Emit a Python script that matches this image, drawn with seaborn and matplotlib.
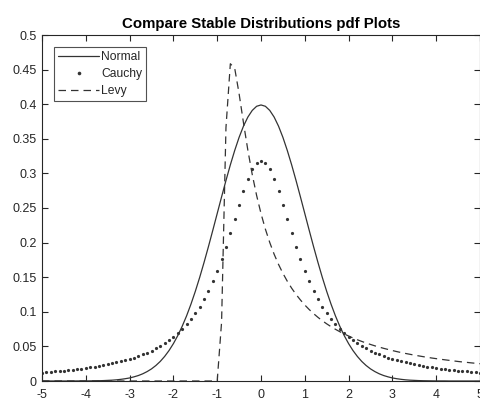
import numpy as np
import pandas as pd
import matplotlib
matplotlib.use("Agg")
import matplotlib.pyplot as plt
import seaborn as sns

x_values = np.linspace(-5, 5, 101)

normal_pdf = [
    0.0000, 0.0000, 0.0000, 0.0000, 0.0000, 0.0000, 0.0000, 0.0000,
    0.0001, 0.0001, 0.0001, 0.0002, 0.0003, 0.0004, 0.0006, 0.0009, 0.0012, 0.0017,
    0.0024, 0.0033, 0.0044, 0.0060, 0.0079, 0.0104, 0.0136, 0.0175, 0.0224, 0.0283,
    0.0355, 0.0440, 0.0540, 0.0656, 0.0790, 0.0940, 0.1109, 0.1295, 0.1497, 0.1714,
    0.1942, 0.2179, 0.2420, 0.2661, 0.2897, 0.3123, 0.3332, 0.3521, 0.3683, 0.3814,
    0.3910, 0.3970,
    0.3989,
    0.3970, 0.3910, 0.3814, 0.3683, 0.3521, 0.3332, 0.3123, 0.2897, 0.2661, 0.2420,
    0.2179, 0.1942, 0.1714, 0.1497, 0.1295, 0.1109, 0.0940, 0.0790, 0.0656, 0.0540,
    0.0440, 0.0355, 0.0283, 0.0224, 0.0175, 0.0136, 0.0104, 0.0079, 0.0060, 0.0044,
    0.0033, 0.0024, 0.0017, 0.0012, 0.0009, 0.0006, 0.0004, 0.0003, 0.0002, 0.0001,
    0.0001, 0.0001, 0.0000, 0.0000, 0.0000, 0.0000, 0.0000, 0.0000, 0.0000, 0.0000,
]

cauchy_pdf = [
    0.0122, 0.0127, 0.0132, 0.0138, 0.0144, 0.0150, 0.0156, 0.0163, 0.0171, 0.0179,
    0.0187, 0.0196, 0.0206, 0.0217, 0.0228, 0.0240, 0.0253, 0.0268, 0.0283, 0.0300,
    0.0318, 0.0338, 0.0360, 0.0384, 0.0410, 0.0439, 0.0471, 0.0506, 0.0545, 0.0588,
    0.0637, 0.0691, 0.0751, 0.0818, 0.0894, 0.0979, 0.1075, 0.1183, 0.1305, 0.1440,
    0.1592, 0.1759, 0.1941, 0.2136, 0.2340, 0.2546, 0.2744, 0.2920, 0.3061, 0.3152,
    0.3183,
    0.3152, 0.3061, 0.2920, 0.2744, 0.2546, 0.2340, 0.2136, 0.1941, 0.1759, 0.1592,
    0.1440, 0.1305, 0.1183, 0.1075, 0.0979, 0.0894, 0.0818, 0.0751, 0.0691, 0.0637,
    0.0588, 0.0545, 0.0506, 0.0471, 0.0439, 0.0410, 0.0384, 0.0360, 0.0338, 0.0318,
    0.0300, 0.0283, 0.0268, 0.0253, 0.0240, 0.0228, 0.0217, 0.0206, 0.0196, 0.0187,
    0.0179, 0.0171, 0.0163, 0.0156, 0.0150, 0.0144, 0.0138, 0.0132, 0.0127, 0.0122,
]

levy_pdf = [
    0.0, 0.0, 0.0, 0.0, 0.0, 0.0, 0.0, 0.0, 0.0, 0.0,
    0.0, 0.0, 0.0, 0.0, 0.0, 0.0, 0.0, 0.0, 0.0, 0.0,
    0.0, 0.0, 0.0, 0.0, 0.0, 0.0, 0.0, 0.0, 0.0, 0.0,
    0.0, 0.0, 0.0, 0.0, 0.0, 0.0, 0.0, 0.0, 0.0, 0.0,
    0.0,
    0.0850, 0.3661, 0.4585, 0.4518, 0.4151, 0.3731, 0.3335, 0.2984, 0.2681, 0.2420,
    0.2195, 0.2001, 0.1832, 0.1685, 0.1556, 0.1442, 0.1341, 0.1251, 0.1171, 0.1098,
    0.1033, 0.0974, 0.0920, 0.0871, 0.0826, 0.0785, 0.0747, 0.0712, 0.0680, 0.0650,
    0.0622, 0.0596, 0.0572, 0.0549, 0.0528, 0.0508, 0.0490, 0.0472, 0.0456, 0.0440,
    0.0425, 0.0411, 0.0398, 0.0386, 0.0374, 0.0363, 0.0352, 0.0342, 0.0332, 0.0323,
    0.0314, 0.0306, 0.0298, 0.0290, 0.0282, 0.0275, 0.0269, 0.0262, 0.0256, 0.0250,
]

series_labels = ["Normal", "Cauchy", "Levy"]
title_text = "Compare Stable Distributions pdf Plots"
x_ticks = [-5, -4, -3, -2, -1, 0, 1, 2, 3, 4, 5]
y_ticks = [0, 0.05, 0.1, 0.15, 0.2, 0.25, 0.3, 0.35, 0.4, 0.45, 0.5]
y_tick_labels = ["0", "0.05", "0.1", "0.15", "0.2", "0.25", "0.3", "0.35", "0.4", "0.45", "0.5"]

sns.set_style("white")
plt.rcParams["font.family"] = ["Liberation Sans", "DejaVu Sans"]

fig = plt.figure(figsize=(4.81, 4.0), dpi=100)
ax = fig.add_axes([42 / 481, 19 / 400, 438 / 481, 346 / 400])

line_color = "#333333"
sns.lineplot(x=x_values, y=normal_pdf, ax=ax, color=line_color, linewidth=0.9,
             label=series_labels[0], estimator=None, sort=False)
sns.lineplot(x=x_values, y=cauchy_pdf, ax=ax, color=line_color, linestyle="",
             marker="o", markersize=2.3, markeredgewidth=0, label=series_labels[1],
             estimator=None, sort=False)
sns.lineplot(x=x_values, y=levy_pdf, ax=ax, color=line_color, linewidth=0.9,
             dashes=False, label=series_labels[2], estimator=None, sort=False)
ax.lines[-1].set_linestyle((0, (6, 4)))

ax.set_xlim(-5, 5)
ax.set_ylim(0, 0.5)
ax.set_xticks(x_ticks)
ax.set_yticks(y_ticks)
ax.set_xticklabels([str(t) for t in x_ticks])
ax.set_yticklabels(y_tick_labels)
ax.tick_params(direction="in", length=4, width=0.8, colors="#262626", labelsize=9,
               top=True, right=True, bottom=True, left=True, pad=4)
ax.tick_params(axis="x", pad=6)
for sp in ax.spines.values():
    sp.set_visible(True)
    sp.set_color("#262626")
    sp.set_linewidth(0.8)
ax.set_title(title_text, fontsize=10.8, fontweight="bold", color="black", pad=5)

leg = ax.legend(loc="upper left", bbox_to_anchor=(0.027, 0.965), frameon=True,
                fancybox=False, edgecolor="#262626", fontsize=8.7, handlelength=3.4,
                handletextpad=0.15, borderpad=0.35, labelspacing=0.4, borderaxespad=0)
leg.get_frame().set_linewidth(0.8)
for h in leg.legend_handles:
    if h.get_marker() == "o":
        h.set_markersize(2.6)
ax.set_xlabel("")
ax.set_ylabel("")

fig.savefig("out.png", dpi=100, facecolor="white")
